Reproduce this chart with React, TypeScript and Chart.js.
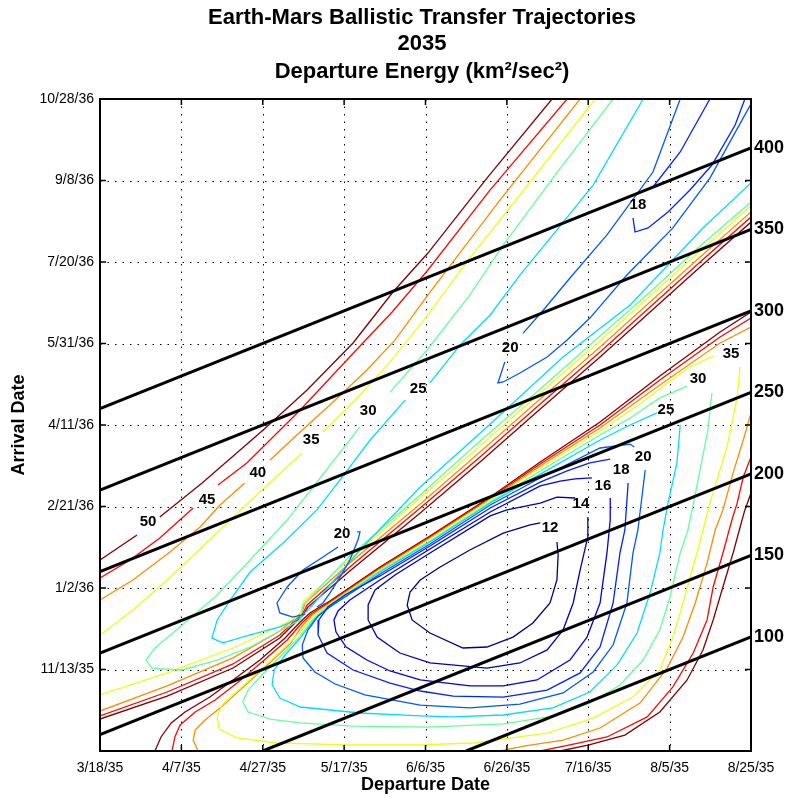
import React, { useEffect, useRef } from 'react';
import { Chart, registerables } from 'chart.js';

Chart.register(...registerables);

const FONT = '"Liberation Sans", Arial, Helvetica, sans-serif';

const titleLines = ['Earth-Mars Ballistic Transfer Trajectories', '2035', 'Departure Energy (km\u00B2/sec\u00B2)'];
const xAxisTitle = 'Departure Date';
const yAxisTitle = 'Arrival Date';

// departure axis: days after 3/18/35
const xTickValues = [0, 20, 40, 60, 80, 100, 120, 140, 160];
const xTickLabels = ['3/18/35', '4/7/35', '4/27/35', '5/17/35', '6/6/35', '6/26/35', '7/16/35', '8/5/35', '8/25/35'];
// arrival axis: days after 9/24/35
const yTickValues = [50, 100, 150, 200, 250, 300, 350, 400];
const yTickLabels = ['11/13/35', '1/2/36', '2/21/36', '4/11/36', '5/31/36', '7/20/36', '9/8/36', '10/28/36'];
const xRange = [0, 160];
const yRange = [0, 400];
const arrivalOriginOffset = 190; // days from 3/18/35 to 9/24/35

// time of flight lines (days)
const tofValues = [100, 150, 200, 250, 300, 350, 400];

// contour levels (C3, km^2/s^2) and colours
const levels = [12, 14, 16, 18, 20, 25, 30, 35, 40, 45, 50];
const levelColors = ['#000080', '#0000b5', '#0000eb', '#0022ff', '#0057ff', '#00ddff', '#65ff9a', '#ebff14', '#ff8c00', '#ff0700', '#800000'];

// contour polylines: flat [departureDay, arrivalDay, ...]
const c12 = [
  [108.2, 139.9, 105.7, 138.7, 99.1, 133.7, 90.9, 123.3, 83.6, 112.9, 78.7, 104.9, 76.2, 97.5, 75.5, 89.6, 76.7, 80.4, 81.1, 72.4, 89.2, 63.2, 95.1, 63.8, 101.5, 69.9, 106.4, 78.5, 110.6, 90.8, 112.3, 104.9, 112.6, 120.2, 112.3, 128.2],
];
const c14 = [
  [116.8, 155.2, 112.3, 155.8, 108.2, 152.1, 100.0, 147.9, 95.9, 144.2, 81.1, 121.5, 72.5, 108.0, 67.6, 98.8, 65.9, 89.6, 65.9, 80.4, 68.1, 69.9, 73.7, 60.1, 81.1, 54.0, 95.1, 50.9, 103.2, 54.0, 109.9, 62.0, 113.8, 74.2, 116.3, 90.8, 118.0, 111.0, 119.7, 129.4, 119.9, 143.6],
];
const c16 = [
  [120.9, 167.5, 116.8, 166.9, 113.1, 165.6, 108.2, 162.6, 95.9, 146.6, 81.1, 123.9, 68.8, 104.9, 61.4, 92.6, 58.5, 85.9, 57.5, 80.4, 58.0, 73.0, 60.5, 63.8, 65.6, 55.8, 71.3, 49.1, 78.7, 43.6, 90.9, 39.9, 99.1, 39.9, 107.4, 43.6, 115.5, 55.8, 119.7, 69.9, 122.9, 90.8, 124.6, 121.5, 125.4, 141.7, 125.4, 155.2],
];
const c18 = [
  [149.9, 400, 142.6, 367.5, 135.9, 346.0],
  [131.0, 327.0, 131.5, 318.4, 134.7, 320.9, 139.6, 330.7, 145.0, 344.2, 150.4, 359.5, 156.1, 384.0, 158.5, 400],
  [125.4, 179.1, 120.4, 176.7, 114.8, 171.8, 108.2, 165.0, 95.9, 149.1, 81.1, 125.8, 68.8, 107.4, 60.2, 95.7, 56.0, 88.3, 53.8, 80.4, 53.6, 71.2, 55.8, 60.1, 62.2, 49.7, 71.3, 41.7, 78.7, 36.8, 86.8, 33.7, 99.1, 33.1, 109.9, 37.4, 118.0, 47.9, 122.9, 63.8, 126.1, 90.8, 127.8, 121.5, 129.0, 135.6, 129.8, 164.4],
];
const c20 = [
  [142.6, 400, 135.9, 355.2, 124.6, 316.6, 115.5, 290.2, 109.4, 271.8, 104.0, 256.4],
  [99.5, 238.7, 97.8, 225.8, 99.1, 226.4, 103.2, 231.9, 109.9, 241.7, 114.8, 252.1, 120.4, 265.6, 129.5, 292.0, 140.8, 320.9, 149.9, 351.5, 160, 397],
  [63.2, 134.4, 63.9, 134.4, 63.4, 129.4, 61.4, 117.2, 59.0, 106.7, 56.5, 96.9, 54.8, 90.8, 53.3, 88.3],
  [58.5, 125.2, 54.8, 119.0, 49.9, 111.0, 46.0, 100.6, 43.5, 90.8, 44.2, 84.7, 47.4, 82.2, 50.4, 84.0],
  [131.3, 186.5, 130.3, 188.3, 122.9, 185.9, 108.2, 167.5, 95.9, 150.9, 81.1, 127.0, 68.8, 108.6, 56.5, 88.3, 53.6, 82.8, 51.1, 74.2, 49.7, 65.0, 49.9, 57.1, 52.8, 48.5, 57.8, 41.1, 65.1, 34.4, 78.7, 28.2, 90.9, 26.4, 103.2, 28.8, 113.8, 35.6, 121.2, 48.5, 126.1, 65.0, 129.5, 90.8, 131.0, 121.5, 132.2, 135.6, 134.0, 172.4],
];
const c25 = [
  [133.5, 400, 121.2, 347.2, 111.3, 316.6, 103.2, 292.0, 95.9, 267.5, 88.5, 249.1, 81.1, 225.8],
  [75.0, 215.3, 66.4, 190.8, 59.0, 166.3, 53.3, 147.9, 45.0, 127.6, 36.9, 109.8, 32.0, 92.6, 28.8, 80.4, 27.5, 69.3, 30.2, 66.3, 36.9, 71.2, 44.2, 76.1, 49.2, 81.6, 51.6, 87.7, 56.5, 101.8, 63.9, 123.3, 78.7, 162.0, 95.1, 198.8, 113.8, 241.7, 130.3, 273.6, 148.2, 320.9, 160, 348.5],
  [136.9, 207.4, 130.3, 200.0, 122.9, 190.8, 108.2, 169.9, 95.9, 152.1, 81.1, 128.2, 68.8, 109.8, 56.5, 89.0, 54.8, 85.3, 52.8, 81.0, 49.2, 69.3, 45.5, 58.9, 42.8, 49.7, 42.3, 40.5, 44.2, 32.5, 49.2, 27.0, 63.9, 23.3, 78.7, 21.5, 86.8, 20.9, 99.1, 22.1, 111.3, 26.4, 120.4, 36.2, 127.1, 52.8, 132.0, 72.4, 135.2, 96.9, 137.6, 121.5, 138.4, 135.6, 139.6, 152.1, 141.8, 176.7, 142.6, 200.0],
];
const c30 = [
  [126.1, 400, 111.3, 351.5, 99.1, 310.4, 90.9, 279.8, 80.4, 246.0, 71.3, 220.2],
  [63.9, 198.8, 54.1, 167.5, 46.0, 141.7, 36.9, 117.2, 28.3, 94.5, 20.2, 77.3, 13.5, 63.2, 11.3, 55.8, 12.8, 50.9, 20.2, 49.7, 28.8, 55.8, 36.9, 63.8, 46.0, 76.1, 49.2, 80.4, 49.9, 89.6, 61.4, 119.6, 78.7, 157.1, 93.4, 190.2, 108.2, 222.1, 122.9, 254.6, 135.2, 281.6, 147.5, 309.8, 160, 336.8],
  [144.3, 223.9, 137.6, 216.6, 130.3, 204.3, 122.9, 193.9, 108.2, 171.8, 95.9, 152.8, 81.1, 128.8, 68.8, 110.4, 56.5, 89.6, 54.6, 85.9, 52.6, 81.6, 49.2, 70.6, 44.2, 57.7, 39.8, 46.6, 36.4, 37.4, 35.1, 30.1, 36.4, 23.9, 41.8, 19.6, 49.2, 17.2, 62.2, 15.3, 80.6, 14.7, 99.3, 16.6, 111.6, 21.5, 120.4, 29.4, 127.8, 40.5, 133.5, 55.8, 137.6, 74.2, 140.1, 94.5, 142.6, 121.5, 144.5, 135.6, 147.0, 166.3, 149.4, 196.9, 150.4, 219.6],
];
const c35 = [
  [0, 71.2, 8.1, 86.5, 16.5, 104.9, 24.6, 123.9, 32.0, 141.7, 40.6, 162.0, 49.7, 182.8],
  [54.8, 195.7, 63.2, 216.6, 71.3, 238.7, 80.4, 266.9, 90.9, 302.5, 103.2, 341.1, 121.7, 400],
  [0, 34.4, 16.5, 47.9, 32.7, 63.2, 44.2, 76.7, 49.2, 83.4, 50.1, 92.0, 61.4, 117.8, 78.7, 155.2, 93.4, 187.1, 108.2, 219.6, 122.9, 251.5, 135.2, 279.1, 147.5, 306.8, 160, 334.4],
  [150.7, 242.3, 145.0, 235.6, 140.1, 227.0, 132.7, 212.9, 122.9, 196.3, 108.2, 173.6, 95.9, 154.0, 81.1, 130.1, 68.8, 111.0, 56.5, 90.2, 54.3, 86.5, 52.4, 82.8, 49.2, 73.0, 44.2, 60.7, 38.1, 46.6, 33.2, 35.6, 30.0, 28.2, 28.8, 20.9, 29.3, 13.5, 33.7, 8.0, 43.5, 4.9, 61.0, 3.7, 78.7, 3.7, 91.9, 4.9, 99.3, 7.4, 109.9, 11.0, 121.2, 20.2, 131.0, 33.1, 137.6, 49.7, 140.8, 69.9, 143.3, 90.8, 146.7, 121.5, 148.2, 135.6, 149.9, 152.1, 154.1, 186.5, 156.6, 217.2, 157.3, 235.6],
];
const c40 = [
  [0, 92.6, 8.1, 104.9, 17.2, 122.1, 24.6, 137.4, 29.5, 150.9, 35.6, 164.4],
  [41.8, 178.5, 49.2, 195.7, 56.5, 212.3, 65.6, 233.7, 72.5, 252.1, 80.6, 279.8, 98.3, 338.0, 118.0, 400],
  [0, 24.5, 16.5, 39.9, 32.7, 57.1, 44.2, 73.6, 49.7, 85.3, 50.4, 90.8, 61.4, 115.3, 78.7, 151.5, 93.4, 183.4, 108.2, 216.0, 122.9, 247.9, 135.2, 275.5, 147.5, 303.1, 160, 330.7],
  [24.1, 0, 22.9, 6.7, 23.4, 12.9, 25.8, 19.0, 29.5, 26.4, 34.4, 37.4, 40.6, 51.5, 46.7, 65.6, 49.7, 76.7, 52.1, 83.4, 54.1, 86.5, 56.5, 90.8, 68.8, 111.7, 81.1, 130.7, 95.9, 154.6, 108.2, 174.8, 122.9, 198.2, 137.6, 224.5, 152.4, 250.3, 160, 260.1],
  [160, 207.4, 158.1, 190.8, 155.6, 170.6, 153.1, 147.9, 151.2, 135.6, 149.2, 115.3, 146.3, 90.8, 143.3, 69.9, 139.4, 50.9, 132.7, 29.4, 122.9, 14.1, 113.8, 6.7, 104.5, 3.1, 98.3, 0],
];
const c45 = [
  [0, 106.1, 7.4, 117.2, 14.7, 130.7, 22.9, 149.1],
  [29.0, 163.2, 36.1, 176.7, 49.2, 209.2, 64.6, 250.3, 71.8, 269.3, 80.6, 295.1, 95.9, 344.2, 114.8, 400],
  [0, 21.5, 16.5, 36.2, 32.7, 53.4, 44.2, 71.2, 49.9, 84.7, 50.9, 89.6, 61.4, 112.9, 78.7, 149.1, 93.4, 180.4, 108.2, 212.9, 122.9, 244.8, 135.2, 272.4, 147.5, 300.0, 160, 327.6],
  [17.7, 0, 18.4, 8.6, 19.7, 16.0, 23.4, 23.9, 28.3, 31.3, 33.7, 41.7, 39.8, 54.6, 46.0, 68.1, 49.4, 77.9, 51.9, 84.0, 53.8, 87.1, 56.5, 91.4, 68.8, 112.3, 81.1, 131.3, 95.9, 155.2, 108.2, 176.1, 122.9, 200.0, 137.6, 227.6, 152.4, 254.0, 160, 265.6],
  [160, 180.4, 158.1, 168.1, 156.6, 152.1, 155.3, 141.7, 153.1, 121.5, 150.7, 100.6, 149.2, 80.4, 145.8, 60.1, 140.8, 39.3, 134.5, 20.9, 124.6, 8.6, 115.5, 3.7, 108.2, 0],
];
const c50 = [
  [0, 117.2, 9.1, 132.5],
  [14.7, 143.6, 25.1, 164.4, 40.1, 196.9, 50.9, 221.5, 62.2, 250.3, 72.0, 281.6, 80.6, 305.5, 95.1, 351.5, 111.1, 400],
  [0, 19.6, 16.5, 33.7, 32.7, 50.9, 44.2, 69.3, 50.1, 84.0, 51.1, 88.3, 61.4, 110.4, 78.7, 146.0, 93.4, 177.3, 108.2, 209.8, 122.9, 241.7, 135.2, 269.3, 147.5, 296.9, 160, 324.5],
  [13.5, 0, 15.0, 8.6, 17.5, 17.2, 20.9, 23.9, 27.0, 33.1, 32.7, 43.6, 39.3, 55.8, 45.5, 69.3, 49.2, 79.1, 51.6, 84.7, 53.6, 87.7, 56.5, 92.0, 68.8, 112.9, 81.1, 131.9, 95.9, 155.8, 108.2, 177.3, 122.9, 201.8, 137.6, 230.1, 152.4, 257.1, 160, 269.3],
  [160, 158.3, 158.5, 147.9, 157.8, 141.7, 155.6, 121.5, 153.1, 100.6, 150.7, 80.4, 148.2, 62.0, 144.3, 43.6, 137.6, 23.9, 129.0, 9.8, 120.2, 3.7, 113.1, 0],
];
const contourLines = [c12, c14, c16, c18, c20, c25, c30, c35, c40, c45, c50];

// inline contour labels: [value, departureDay, arrivalDay]
const contourLabels = [
  [50, 11.8, 140.5], [45, 26.3, 154.0], [40, 38.8, 170.6], [35, 51.9, 190.8], [30, 65.9, 208.6],
  [25, 78.2, 222.1], [20, 100.8, 247.2], [18, 132.2, 335.0], [20, 59.5, 133.1],
  [12, 110.6, 136.8], [14, 118.2, 151.5], [16, 123.6, 162.6], [18, 128.1, 172.4],
  [20, 133.5, 180.4], [25, 139.1, 209.2], [30, 147.0, 228.2], [35, 155.1, 243.6],
];

function toPoints(flat: number[]) {
  const pts: { x: number; y: number }[] = [];
  for (let i = 0; i < flat.length; i += 2) pts.push({ x: flat[i], y: flat[i + 1] });
  return pts;
}

function tofLine(tof: number) {
  const shift = tof - arrivalOriginOffset;
  const x0 = Math.max(xRange[0], yRange[0] - shift);
  const x1 = Math.min(xRange[1], yRange[1] - shift);
  return [{ x: x0, y: x0 + shift }, { x: x1, y: x1 + shift }];
}

const decorPlugin = {
  id: 'decor',
  beforeDatasetsDraw(chart: any) {
    const { ctx, chartArea: a, scales } = chart;
    const xs = scales.x;
    const ys = scales.y;
    ctx.save();
    ctx.strokeStyle = '#000';
    ctx.lineWidth = 1;
    ctx.setLineDash([1.5, 6]);
    xs.ticks.forEach((t: any) => {
      const px = Math.round(xs.getPixelForValue(t.value)) + 0.5;
      if (px <= a.left + 2 || px >= a.right - 2) return;
      ctx.beginPath();
      ctx.moveTo(px, a.top);
      ctx.lineTo(px, a.bottom);
      ctx.stroke();
    });
    ys.ticks.forEach((t: any) => {
      const py = Math.round(ys.getPixelForValue(t.value)) + 0.5;
      if (py <= a.top + 2 || py >= a.bottom - 2) return;
      ctx.beginPath();
      ctx.moveTo(a.left, py);
      ctx.lineTo(a.right, py);
      ctx.stroke();
    });
    ctx.restore();
  },
  afterDatasetsDraw(chart: any) {
    const { ctx, chartArea: a, scales } = chart;
    const xs = scales.x;
    const ys = scales.y;
    ctx.save();
    ctx.setLineDash([]);
    ctx.strokeStyle = '#000';
    ctx.lineWidth = 1.5;
    const tl = 6;
    xs.ticks.forEach((t: any) => {
      const px = xs.getPixelForValue(t.value);
      ctx.beginPath();
      ctx.moveTo(px, a.bottom);
      ctx.lineTo(px, a.bottom - tl);
      ctx.moveTo(px, a.top);
      ctx.lineTo(px, a.top + tl);
      ctx.stroke();
    });
    ys.ticks.forEach((t: any) => {
      const py = ys.getPixelForValue(t.value);
      ctx.beginPath();
      ctx.moveTo(a.left, py);
      ctx.lineTo(a.left + tl, py);
      ctx.moveTo(a.right, py);
      ctx.lineTo(a.right - tl, py);
      ctx.stroke();
    });
    ctx.lineWidth = 2;
    ctx.strokeRect(a.left, a.top, a.right - a.left, a.bottom - a.top);

    ctx.fillStyle = '#000';
    ctx.font = `bold 15px ${FONT}`;
    ctx.textAlign = 'center';
    ctx.textBaseline = 'middle';
    contourLabels.forEach(([v, dx, dy]) => {
      ctx.fillText(String(v), xs.getPixelForValue(dx), ys.getPixelForValue(dy));
    });
    ctx.restore();
  },
  afterDraw(chart: any) {
    const { ctx, chartArea: a } = chart;
    ctx.save();
    ctx.fillStyle = '#000';
    ctx.textAlign = 'center';
    ctx.textBaseline = 'middle';
    ctx.font = `bold 22px ${FONT}`;
    const cx = 422;
    ctx.fillText(titleLines[0], cx, 18);
    ctx.fillText(titleLines[1], cx, 44);
    ctx.fillText(titleLines[2], cx, 72);
    ctx.font = `bold 18px ${FONT}`;
    ctx.fillText(xAxisTitle, (a.left + a.right) / 2, 785);
    ctx.translate(19, (a.top + a.bottom) / 2);
    ctx.rotate(-Math.PI / 2);
    ctx.fillText(yAxisTitle, 0, 0);
    ctx.restore();
  },
};

export default function App() {
  const ref = useRef<HTMLCanvasElement | null>(null);

  useEffect(() => {
    if (!ref.current) return;
    const datasets: any[] = [];
    tofValues.forEach((t) => {
      datasets.push({
        data: tofLine(t),
        showLine: true,
        borderColor: '#000',
        borderWidth: 3,
        pointRadius: 0,
        order: 0,
      });
    });
    contourLines.forEach((lines, li) => {
      lines.forEach((flat) => {
        datasets.push({
          data: toPoints(flat),
          showLine: true,
          borderColor: levelColors[li],
          borderWidth: 1.3,
          pointRadius: 0,
          tension: 0,
          order: 1,
        });
      });
    });

    const chart = new Chart(ref.current, {
      type: 'scatter',
      data: { datasets },
      options: {
        animation: false,
        responsive: false,
        devicePixelRatio: 1,
        events: [],
        layout: { padding: { top: 99, left: 0, right: 0, bottom: 0 } },
        plugins: { legend: { display: false }, tooltip: { enabled: false }, title: { display: false } },
        scales: {
          x: {
            type: 'linear',
            position: 'bottom',
            min: xRange[0],
            max: xRange[1],
            afterBuildTicks: (s: any) => { s.ticks = xTickValues.map((v) => ({ value: v })); },
            ticks: {
              callback: (_v: any, i: number) => xTickLabels[i],
              font: { size: 14, family: FONT },
              color: '#000',
              padding: 9,
              autoSkip: false,
              maxRotation: 0,
              minRotation: 0,
            },
            grid: { display: false, drawTicks: false },
            border: { display: false },
            afterFit: (s: any) => { s.height = 47; },
          },
          y: {
            type: 'linear',
            position: 'left',
            min: yRange[0],
            max: yRange[1],
            afterBuildTicks: (s: any) => { s.ticks = yTickValues.map((v) => ({ value: v })); },
            ticks: {
              callback: (_v: any, i: number) => yTickLabels[i],
              font: { size: 14, family: FONT },
              color: '#000',
              padding: 6,
              autoSkip: false,
            },
            grid: { display: false, drawTicks: false },
            border: { display: false },
            afterFit: (s: any) => { s.width = 100; },
          },
          y2: {
            type: 'linear',
            position: 'right',
            min: yRange[0],
            max: yRange[1],
            afterBuildTicks: (s: any) => {
              s.ticks = tofValues.map((t) => ({ value: xRange[1] + t - arrivalOriginOffset }));
            },
            ticks: {
              callback: (_v: any, i: number) => String(tofValues[i]),
              font: { size: 18, weight: 'bold', family: FONT },
              color: '#000',
              padding: 3,
              autoSkip: false,
            },
            grid: { display: false, drawTicks: false },
            border: { display: false },
            afterFit: (s: any) => { s.width = 35; },
          },
        },
      },
      plugins: [decorPlugin],
    } as any);
    return () => chart.destroy();
  }, []);

  return (
    <div style={{ position: 'absolute', left: 0, top: 0, width: 786, height: 798, background: '#fff' }}>
      <canvas ref={ref} width={786} height={798} style={{ display: 'block', width: 786, height: 798 }} />
    </div>
  );
}
